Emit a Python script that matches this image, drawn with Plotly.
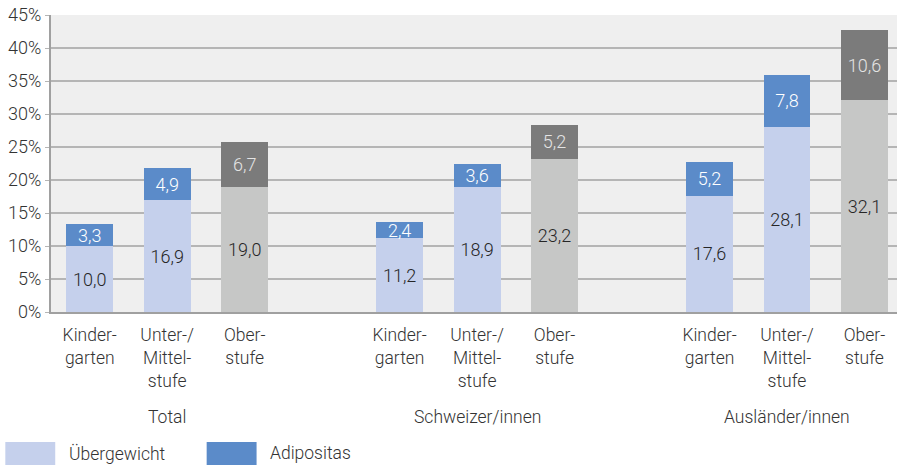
import plotly.graph_objects as go

groups = ["Total", "Schweizer/innen", "Ausländer/innen"]
stages = ["Kinder-<br>garten", "Unter-/<br>Mittel-<br>stufe", "Ober-<br>stufe"]

uebergewicht = [10.0, 16.9, 19.0, 11.2, 18.9, 23.2, 17.6, 28.1, 32.1]
adipositas = [3.3, 4.9, 6.7, 2.4, 3.6, 5.2, 5.2, 7.8, 10.6]

ytick_vals = [0, 5, 10, 15, 20, 25, 30, 35, 40, 45]

LIGHT_BLUE = "#c5d0ec"
MID_BLUE = "#5b8bc9"
LIGHT_GREY = "#c6c7c6"
DARK_GREY = "#7b7b7b"
FONT = "Roboto"
TXT = "#333333"

# x position: one empty slot between the groups
xpos = []
xtext = []
for g in range(len(groups)):
    for s in range(len(stages)):
        xpos.append(g * 4 + s)
        xtext.append(stages[s])

is_ober = [i % 3 == 2 for i in range(len(xpos))]
base_colors = [LIGHT_GREY if o else LIGHT_BLUE for o in is_ober]
top_colors = [DARK_GREY if o else MID_BLUE for o in is_ober]
top_text_colors = ["#e4e4e4" if o else "white" for o in is_ober]


def fmt(v):
    return f"{v:.1f}".replace(".", ",")


fig = go.Figure()
fig.add_trace(
    go.Bar(
        x=xpos,
        y=uebergewicht,
        marker={"color": base_colors, "line": {"width": 0}},
        text=[fmt(v) for v in uebergewicht],
        textposition="inside",
        insidetextanchor="middle",
        textangle=0,
        constraintext="none",
        textfont={"family": FONT, "size": 18, "color": "#262626", "weight": 300},
        name="Übergewicht",
        showlegend=False,
    )
)
fig.add_trace(
    go.Bar(
        x=xpos,
        y=adipositas,
        marker={"color": top_colors, "line": {"width": 0}},
        text=[fmt(v) for v in adipositas],
        textposition="inside",
        insidetextanchor="middle",
        textangle=0,
        constraintext="none",
        textfont={"family": FONT, "size": 18, "color": top_text_colors, "weight": 300},
        name="Adipositas",
        showlegend=False,
    )
)

# group labels
for g, name in enumerate(groups):
    fig.add_annotation(
        x=g * 4 + 1, y=-0.353, xref="x", yref="paper",
        text=name, showarrow=False, yanchor="middle",
        font={"family": FONT, "size": 17.5, "color": TXT, "weight": 300},
    )

# legend drawn by hand (wide swatches)
legend_items = [("Übergewicht", LIGHT_BLUE, -0.054), ("Adipositas", MID_BLUE, 0.184)]
for label, col, x0 in legend_items:
    fig.add_shape(
        type="rect", xref="paper", yref="paper",
        x0=x0, x1=x0 + 0.059, y0=-0.515, y1=-0.438,
        fillcolor=col, line={"width": 0},
    )
    fig.add_annotation(
        x=x0 + 0.073, y=-0.476, xref="paper", yref="paper",
        text=label, showarrow=False, xanchor="left", yanchor="middle",
        font={"family": FONT, "size": 17.5, "color": TXT, "weight": 300},
    )

fig.update_layout(
    width=897,
    height=467,
    barmode="stack",
    bargap=0.394,
    paper_bgcolor="white",
    plot_bgcolor="#efefef",
    margin={"l": 51, "r": 0, "t": 15, "b": 155},
    font={"family": FONT, "size": 17.5, "color": TXT, "weight": 300},
    uniformtext={"minsize": 18, "mode": "show"},
    xaxis={
        "range": [-0.5, 10.42],
        "tickvals": xpos,
        "ticktext": xtext,
        "showgrid": False,
        "showline": True,
        "linecolor": "#a0a0a0",
        "linewidth": 2,
        "ticks": "",
        "ticklabelstandoff": 6,
        "tickfont": {"family": FONT, "size": 17.5, "color": TXT, "weight": 300},
    },
    yaxis={
        "range": [0, 45],
        "tickvals": ytick_vals,
        "ticktext": [f"{v}%" for v in ytick_vals],
        "showgrid": True,
        "gridcolor": "#b5b5b5",
        "gridwidth": 1.5,
        "showline": True,
        "linecolor": "#a0a0a0",
        "linewidth": 2,
        "ticks": "outside",
        "ticklen": 4,
        "tickcolor": "#b5b5b5",
        "zeroline": False,
        "tickfont": {"family": FONT, "size": 18, "color": TXT, "weight": 300},
    },
)

fig.write_html(
    "out.html",
    config={"displayModeBar": False},
    post_script="document.body.style.margin='0';",
)
